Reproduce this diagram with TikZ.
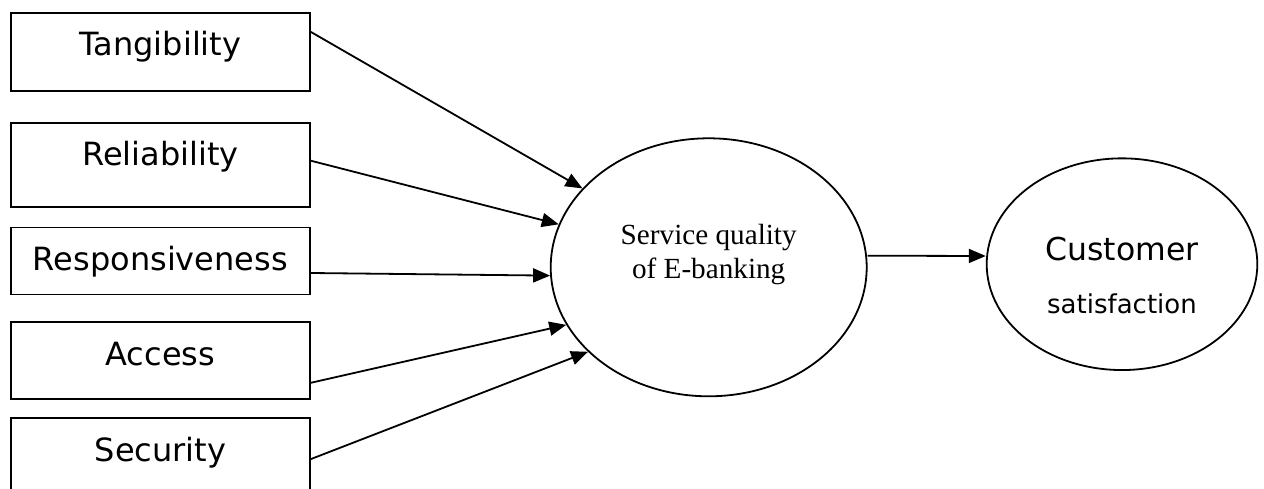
\documentclass[tikz,border=0pt]{standalone}
\usepackage{fontspec}
\setmainfont{DejaVu Sans}
\newfontfamily\timesfont{Liberation Serif}
\usetikzlibrary{arrows.meta,positioning,shapes.geometric}

\begin{document}
\begin{tikzpicture}[
  x=1pt, y=-1pt,
  factor/.style={rectangle, draw, line width=1.8pt, minimum width=299pt, inner sep=0pt, text height=43pt, font=\fontsize{32}{38}\selectfont},
  construct/.style={ellipse, draw, line width=1.8pt, inner sep=0pt, align=center},
  arrow/.style={-{Triangle[length=17pt, width=14pt]}, line width=1.8pt}
]
\useasboundingbox (0,0) rectangle (1264,489);
\node[factor, anchor=north west, text depth=35pt] (tang) at (10,12) {Tangibility};
\node[factor, below=30pt of tang, text depth=41pt] (rel) {Reliability};
\node[factor, below=19pt of rel, text depth=24pt] (resp) {Responsiveness};
\node[factor, below=26pt of resp, text depth=34pt] (acc) {Access};
\node[factor, below=17pt of acc, text depth=39pt] (sec) {Security};
\node[construct, minimum width=316pt, minimum height=258pt, text height=60pt, text depth=36.6pt,
  font=\timesfont\fontsize{29.2}{34}\selectfont] (sq) at (708.7,267.3) {Service quality\\of E-banking};
\node[construct, minimum width=270.6pt, minimum height=211.7pt, text height=100pt, text depth=1.8pt,
  font=\fontsize{31.5}{52.6}\selectfont] (cs) at (1122,264.2) {Customer\\{\fontsize{26}{52.6}\selectfont satisfaction}};
\draw[arrow] ([yshift=20pt]tang.east) -- (sq.148);
\draw[arrow] ([yshift=4pt]rel.east) -- (sq.164);
\draw[arrow] ([yshift=-12pt]resp.east) -- (sq.183);
\draw[arrow] ([yshift=-22pt]acc.east) -- (sq.202);
\draw[arrow] (sec.east) -- (sq.215);
\draw[arrow] ([yshift=11.6pt]sq.east) -- ([yshift=8.2pt]cs.west);
\end{tikzpicture}
\end{document}
